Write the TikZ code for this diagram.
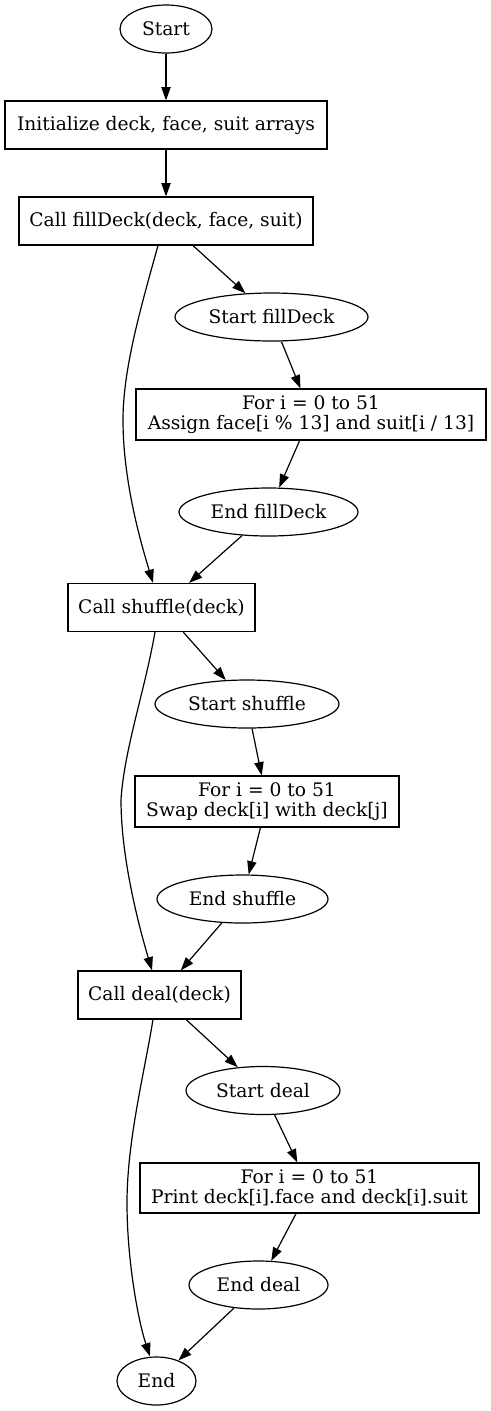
\documentclass[tikz,border=0pt]{standalone}
\usepackage{fontspec}
\setmainfont{DejaVu Serif}
\usetikzlibrary{shapes.geometric,arrows.meta}
\tikzset{
  base/.style={draw=black, line width=0.9pt, inner sep=0pt, align=center,
    font=\fontsize{14}{14.8}\selectfont},
  ell/.style 2 args={base, ellipse, minimum width=#1*0.75pt, minimum height=#2*0.75pt},
  boxn/.style 2 args={base, rectangle, minimum width=#1*0.75pt, minimum height=#2*0.75pt},
  arr/.style={draw=black, line width=0.9pt, -{Triangle[length=10pt,width=7pt]}},
}
\begin{document}
\begin{tikzpicture}[x=0.75pt,y=-0.75pt]
\useasboundingbox (0,0) rectangle (491,1411);
\node[ell={92}{48}] (start) at (166,29) {Start};
\node[boxn={322}{48}] (init) at (166,125) {Initialize deck, face, suit arrays};
\node[boxn={294}{48}] (cfd) at (166,221) {Call fillDeck(deck, face, suit)};
\node[ell={193}{48}] (sfd) at (271.5,317) {Start fillDeck};
\node[boxn={350}{51}] (ffd) at (311,414.5) {For i = 0 to 51\\Assign face[i \% 13] and suit[i / 13]};
\node[ell={179}{48}] (efd) at (268.5,512) {End fillDeck};
\node[boxn={187}{48}] (csh) at (161.5,607.5) {Call shuffle(deck)};
\node[ell={184}{48}] (ssh) at (247,704) {Start shuffle};
\node[boxn={264}{51}] (fsh) at (267,801.5) {For i = 0 to 51\\Swap deck[i] with deck[j]};
\node[ell={171}{48}] (esh) at (242.5,899) {End shuffle};
\node[boxn={163}{48}] (cdl) at (159.5,995) {Call deal(deck)};
\node[ell={154}{48}] (sdl) at (263,1090.5) {Start deal};
\node[boxn={339}{50}] (fdl) at (309.5,1188) {For i = 0 to 51\\Print deck[i].face and deck[i].suit};
\node[ell={139}{48}] (edl) at (258.5,1285) {End deal};
\node[ell={79}{48}] (fin) at (156.5,1381) {End};

\draw[arr] (start) -- (init);
\draw[arr] (init) -- (cfd);
\draw[arr] (cfd) -- (sfd);
\draw[arr] (sfd) -- (ffd);
\draw[arr] (ffd) -- (efd);
\draw[arr] (efd) -- (csh);
\draw[arr] (csh) -- (ssh);
\draw[arr] (ssh) -- (fsh);
\draw[arr] (fsh) -- (esh);
\draw[arr] (esh) -- (cdl);
\draw[arr] (cdl) -- (sdl);
\draw[arr] (sdl) -- (fdl);
\draw[arr] (fdl) -- (edl);
\draw[arr] (edl) -- (fin);

\draw[arr] ([xshift=-6pt]cfd.south) .. controls (140,310) and (123,370) .. (123,420)
  .. controls (123,480) and (140,540) .. ([xshift=-6.4pt]csh.north);
\draw[arr] ([xshift=-4.9pt]csh.south) .. controls (145,690) and (124,750) .. (121,800)
  .. controls (121,860) and (140,930) .. ([xshift=-5.6pt]cdl.north);
\draw[arr] ([xshift=-4.9pt]cdl.south) .. controls (145,1070) and (127,1140) .. (127,1203)
  .. controls (127,1260) and (138,1320) .. ([xshift=-4.9pt]fin.north);
\end{tikzpicture}
\end{document}
